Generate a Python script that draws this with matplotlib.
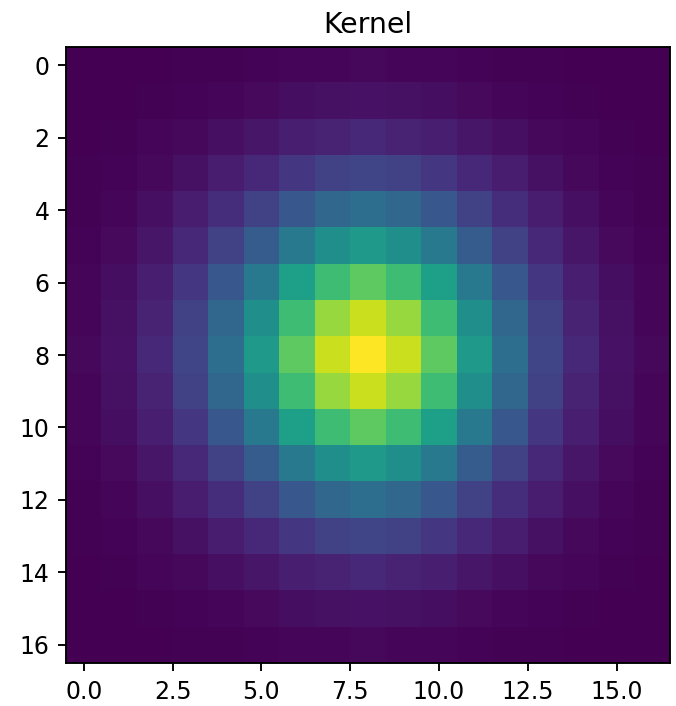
import numpy as np
import matplotlib
matplotlib.use("Agg")
import matplotlib.pyplot as plt

title = "Kernel"
x_ticks = [0.0, 2.5, 5.0, 7.5, 10.0, 12.5, 15.0]
y_ticks = [0, 2, 4, 6, 8, 10, 12, 14, 16]

kernel = [
    [0.000,0.001,0.002,0.004,0.007,0.011,0.015,0.018,0.020,0.018,0.015,0.011,0.007,0.004,0.002,0.001,0.000],
    [0.001,0.003,0.006,0.011,0.018,0.027,0.038,0.046,0.050,0.046,0.038,0.027,0.018,0.011,0.006,0.003,0.001],
    [0.002,0.006,0.012,0.023,0.040,0.059,0.083,0.101,0.110,0.101,0.083,0.059,0.040,0.023,0.012,0.006,0.002],
    [0.004,0.011,0.023,0.044,0.076,0.113,0.158,0.193,0.210,0.193,0.158,0.113,0.076,0.044,0.023,0.011,0.004],
    [0.007,0.018,0.040,0.076,0.130,0.194,0.270,0.331,0.360,0.331,0.270,0.194,0.130,0.076,0.040,0.018,0.007],
    [0.011,0.027,0.059,0.113,0.194,0.292,0.405,0.497,0.540,0.497,0.405,0.292,0.194,0.113,0.059,0.027,0.011],
    [0.015,0.038,0.083,0.158,0.270,0.405,0.563,0.690,0.750,0.690,0.563,0.405,0.270,0.158,0.083,0.038,0.015],
    [0.018,0.046,0.101,0.193,0.331,0.497,0.690,0.846,0.920,0.846,0.690,0.497,0.331,0.193,0.101,0.046,0.018],
    [0.020,0.050,0.110,0.210,0.360,0.540,0.750,0.920,1.000,0.920,0.750,0.540,0.360,0.210,0.110,0.050,0.020],
    [0.018,0.046,0.101,0.193,0.331,0.497,0.690,0.846,0.920,0.846,0.690,0.497,0.331,0.193,0.101,0.046,0.018],
    [0.015,0.038,0.083,0.158,0.270,0.405,0.563,0.690,0.750,0.690,0.563,0.405,0.270,0.158,0.083,0.038,0.015],
    [0.011,0.027,0.059,0.113,0.194,0.292,0.405,0.497,0.540,0.497,0.405,0.292,0.194,0.113,0.059,0.027,0.011],
    [0.007,0.018,0.040,0.076,0.130,0.194,0.270,0.331,0.360,0.331,0.270,0.194,0.130,0.076,0.040,0.018,0.007],
    [0.004,0.011,0.023,0.044,0.076,0.113,0.158,0.193,0.210,0.193,0.158,0.113,0.076,0.044,0.023,0.011,0.004],
    [0.002,0.006,0.012,0.023,0.040,0.059,0.083,0.101,0.110,0.101,0.083,0.059,0.040,0.023,0.012,0.006,0.002],
    [0.001,0.003,0.006,0.011,0.018,0.027,0.038,0.046,0.050,0.046,0.038,0.027,0.018,0.011,0.006,0.003,0.001],
    [0.000,0.001,0.002,0.004,0.007,0.011,0.015,0.018,0.020,0.018,0.015,0.011,0.007,0.004,0.002,0.001,0.000],
]

DPI = 170
fig = plt.figure(figsize=(676 / DPI, 706 / DPI), dpi=DPI)
ax = fig.add_axes([66/676, (706-663)/706, 604/676, 616/706])
ax.imshow(np.array(kernel), cmap="viridis", aspect="auto", interpolation="nearest")
ax.set_xticks(x_ticks)
ax.set_xticklabels([f"{v:.1f}" for v in x_ticks])
ax.set_yticks(y_ticks)
ax.set_title(title)
fig.savefig("out.png", dpi=DPI)
